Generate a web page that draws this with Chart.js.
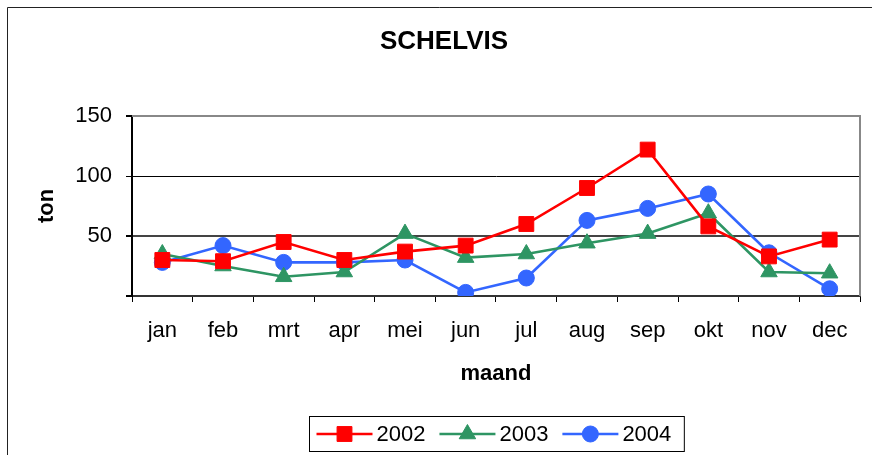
<!DOCTYPE html>
<html>
<head>
<meta charset="utf-8">
<script src="https://cdn.jsdelivr.net/npm/chart.js@4/dist/chart.umd.min.js"></script>
<style>
  html, body { margin: 0; padding: 0; background: #fff; }
  #wrap { width: 872px; height: 455px; position: relative; }
</style>
</head>
<body>
<div id="wrap"><canvas id="schelvisChart"></canvas></div>
<script>
// maanden en aanvoer (ton) per jaar
const months = ['jan', 'feb', 'mrt', 'apr', 'mei', 'jun', 'jul', 'aug', 'sep', 'okt', 'nov', 'dec'];
const tons2002 = [30, 29, 45, 30, 37, 42, 60, 90, 122, 58, 33, 47];
const tons2003 = [35, 25, 16, 20, 52, 32, 35, 44, 52, 69, 20, 19];
const tons2004 = [28, 42, 28, 28, 30, 3, 15, 63, 73, 85, 36, 6];
const yTicks = [0, 50, 100, 150];
const chartTitle = 'SCHELVIS';

const FONT = "'Liberation Sans', Arial, sans-serif";

function drawMarker(ctx, style, r, x, y) {
    Chart.helpers.drawPoint(ctx, { pointStyle: style, radius: r, borderWidth: 1 }, x, y);
}

// outer frame, title, plot-area border and the boxed legend
const framePlugin = {
    id: 'frame',
    beforeDraw(chart) {
        const ctx = chart.ctx;
        ctx.save();
        ctx.fillStyle = '#fff';
        ctx.fillRect(0, 0, chart.width, chart.height);
        ctx.strokeStyle = '#222';
        ctx.lineWidth = 1;
        ctx.beginPath();
        ctx.moveTo(7.5, chart.height);
        ctx.lineTo(7.5, 7.5);
        ctx.lineTo(chart.width, 7.5);
        ctx.stroke();

        ctx.fillStyle = '#000';
        ctx.font = 'bold 26px ' + FONT;
        ctx.textAlign = 'center';
        ctx.textBaseline = 'alphabetic';
        ctx.fillText(chartTitle, 444, 49);
        ctx.restore();
    },
    beforeDatasetsDraw(chart) {
        const { ctx, chartArea } = chart;
        ctx.save();
        ctx.strokeStyle = '#888';
        ctx.lineWidth = 2;
        ctx.beginPath();
        ctx.moveTo(chartArea.left, chartArea.top);
        ctx.lineTo(chartArea.right, chartArea.top);
        ctx.lineTo(chartArea.right, chartArea.bottom);
        ctx.stroke();
        ctx.restore();
    },
    afterDraw(chart) {
        const { ctx, chartArea } = chart;
        const sets = chart.data.datasets;
        ctx.save();
        ctx.font = '22px ' + FONT;
        const lineLen = 56, gap = 4, itemGap = 14, padL = 7, padR = 13;
        let total = padL + padR;
        sets.forEach((ds, i) => {
            total += lineLen + gap + ctx.measureText(ds.label).width;
            if (i < sets.length - 1) total += itemGap;
        });
        const boxX = Math.round((chartArea.left + chartArea.right) / 2 - total / 2) + 0.5;
        const boxY = 416.5, boxH = 35;
        ctx.strokeStyle = '#000';
        ctx.lineWidth = 1;
        ctx.strokeRect(boxX, boxY, total, boxH);

        const cy = boxY + boxH / 2;
        let x = boxX + padL;
        sets.forEach((ds) => {
            ctx.strokeStyle = ds.borderColor;
            ctx.lineWidth = ds.borderWidth;
            ctx.beginPath();
            ctx.moveTo(x, cy);
            ctx.lineTo(x + lineLen, cy);
            ctx.stroke();
            ctx.fillStyle = ds.pointBackgroundColor;
            ctx.strokeStyle = ds.pointBorderColor;
            ctx.lineWidth = 1;
            drawMarker(ctx, ds.pointStyle, ds.pointRadius, x + lineLen / 2, cy);
            x += lineLen + gap;
            ctx.fillStyle = '#000';
            ctx.textAlign = 'left';
            ctx.textBaseline = 'middle';
            ctx.fillText(ds.label, x, cy + 1);
            x += ctx.measureText(ds.label).width + itemGap;
        });
        ctx.restore();
    }
};

function makeSet(label, data, color, style, radius) {
    return {
        label: label,
        data: data,
        borderColor: color,
        backgroundColor: color,
        pointBackgroundColor: color,
        pointBorderColor: color,
        pointStyle: style,
        pointRadius: radius,
        pointHoverRadius: radius,
        pointBorderWidth: 1,
        borderWidth: 2.6,
        tension: 0
    };
}

const ctx = document.getElementById('schelvisChart').getContext('2d');
window.myChart = new Chart(ctx, {
    type: 'line',
    data: {
        labels: months,
        datasets: [
            makeSet('2002', tons2002, '#ff0000', 'rect', 10.5),
            makeSet('2003', tons2003, '#2e9563', 'triangle', 9.5),
            makeSet('2004', tons2004, '#3366ff', 'circle', 8)
        ]
    },
    options: {
        responsive: true,
        maintainAspectRatio: false,
        animation: false,
        events: [],
        layout: { padding: { top: 116, left: 0, right: 12, bottom: 65 } },
        plugins: {
            legend: { display: false },
            tooltip: { enabled: false },
            title: { display: false }
        },
        scales: {
            x: {
                offset: true,
                afterFit: (scale) => { scale.height = 94; },
                grid: {
                    offset: true,
                    drawOnChartArea: false,
                    drawTicks: true,
                    tickLength: 6,
                    color: '#000'
                },
                border: { color: '#333', width: 2 },
                ticks: {
                    color: '#000',
                    padding: 16,
                    maxRotation: 0,
                    font: { family: FONT, size: 22 }
                },
                title: {
                    display: true,
                    text: 'maand',
                    color: '#000',
                    font: { family: FONT, size: 22, weight: 'bold' },
                    padding: { top: 0, bottom: 3 }
                }
            },
            y: {
                min: 0,
                max: 150,
                afterFit: (scale) => { scale.width = 132; },
                afterBuildTicks: (scale) => { scale.ticks = yTicks.map(v => ({ value: v })); },
                grid: {
                    drawTicks: true,
                    tickLength: 6,
                    color: (c) => c.tick.value === 0 ? 'rgba(0,0,0,0)' : (c.tick.value === 150 ? '#888' : (c.tick.value === 50 ? '#444' : '#000')),
                    lineWidth: (c) => c.tick.value === 100 ? 1 : 2,
                    tickColor: '#000'
                },
                border: { color: '#000', width: 2 },
                ticks: {
                    color: '#000',
                    padding: 14,
                    font: { family: FONT, size: 22 },
                    callback: (v) => v === 0 ? '' : v
                },
                title: {
                    display: true,
                    text: 'ton',
                    color: '#000',
                    font: { family: FONT, size: 22, weight: 'bold' },
                    padding: { top: 34, bottom: 0 }
                }
            }
        }
    },
    plugins: [framePlugin]
});
</script>
</body>
</html>
